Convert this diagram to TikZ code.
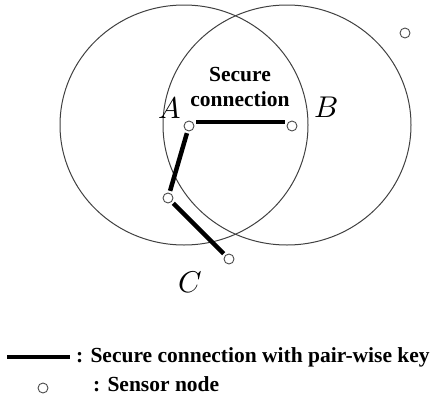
\documentclass[tikz,border=0pt]{standalone}
\usepackage{fontspec}
\setmainfont{Liberation Serif}
\newfontfamily\letterfont{Latin Modern Math}
\usetikzlibrary{positioning}

\begin{document}
\begin{tikzpicture}[x=1pt, y=-1pt,
  sensor/.style={draw=black!70, fill=white, circle, line width=0.9pt, minimum size=10pt, inner sep=0pt},
  radiorange/.style={draw=black!75, line width=1pt},
  link/.style={line width=4.5pt, shorten >=2pt, shorten <=2pt},
  lbl/.style={font=\fontsize{30}{34}\letterfont, inner sep=0pt},
  txt/.style={font=\fontsize{21.5}{24}\selectfont\bfseries, align=center, inner sep=0pt}]
\useasboundingbox (0,0) rectangle (439,402);
% radio ranges of A and B
\draw[radiorange] (184,125) ellipse [x radius=124, y radius=120];
\draw[radiorange] (287,125) ellipse [x radius=124, y radius=120];
% sensor nodes
\node[sensor] (a) at (189,126) {};
\node[sensor] (b) at (292,126) {};
\node[sensor] (m) at (168,198) {};
\node[sensor] (c) at (229,259) {};
\node[sensor] (far) at (405,33) {};
\node[lbl] (la) at (170,108) {\symbol{"1D434}};
\node[lbl] (lb) at (326,107) {\symbol{"1D435}};
\node[lbl] (lc) at (189,282) {\symbol{"1D436}};
\node[txt] (sec) at (240,87) {Secure\\[1pt]connection};
% pair-wise key links
\draw[link] ([yshift=4pt]a.east) -- ([yshift=4pt]b.west);
\draw[link] (a) -- (m);
\draw[link] (m) -- (c);
% legend
\coordinate (l1) at (7,357);
\coordinate (l2) at (70,357);
\draw[line width=4.5pt] (l1) -- (l2);
\node[txt, right=6pt of l2] (key) {: Secure connection with pair-wise key};
\node[sensor] (leg) at (43,388) {};
\node[txt, anchor=west] (sn) at (93,384) {: Sensor node};
\end{tikzpicture}
\end{document}
